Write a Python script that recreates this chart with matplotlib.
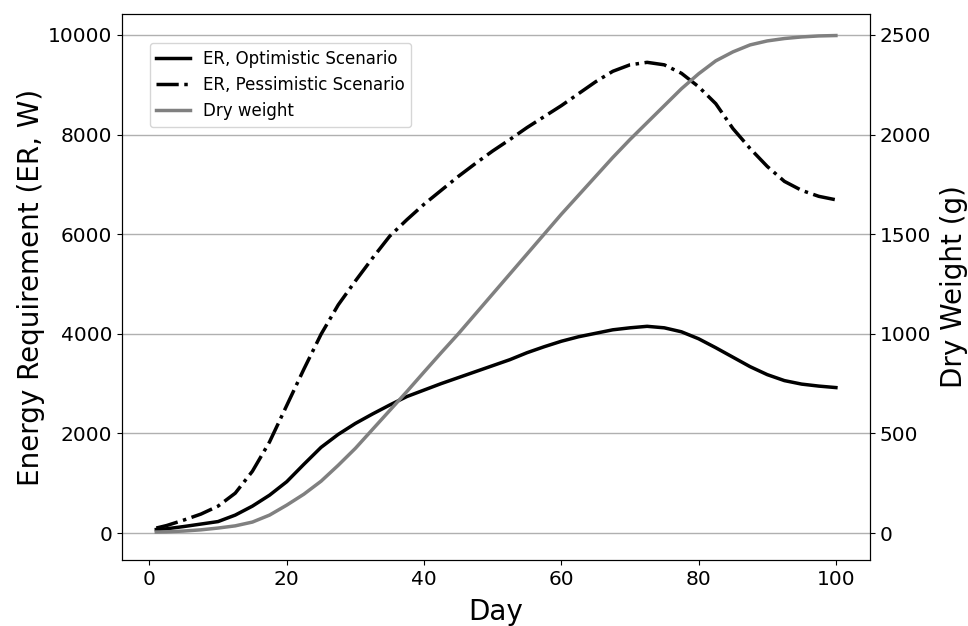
import matplotlib
matplotlib.use("Agg")
import matplotlib.pyplot as plt

days = [1, 2.5, 5, 7.5, 10, 12.5, 15, 17.5, 20, 22.5, 25, 27.5, 30, 32.5, 35, 37.5,
        40, 42.5, 45, 47.5, 50, 52.5, 55, 57.5, 60, 62.5, 65, 67.5, 70, 72.5, 75,
        77.5, 80, 82.5, 85, 87.5, 90, 92.5, 95, 97.5, 100]
er_optimistic = [70, 85, 130, 180, 230, 360, 540, 760, 1030, 1380, 1720, 1980, 2200,
                 2390, 2570, 2740, 2870, 3000, 3120, 3240, 3360, 3480, 3620, 3740,
                 3850, 3940, 4010, 4080, 4120, 4150, 4120, 4040, 3900, 3720, 3530,
                 3340, 3180, 3060, 2990, 2950, 2920]
er_pessimistic = [100, 150, 260, 380, 540, 800, 1240, 1830, 2560, 3290, 3990, 4580,
                  5060, 5520, 5960, 6290, 6600, 6880, 7160, 7420, 7670, 7900, 8140,
                  8360, 8580, 8820, 9060, 9270, 9400, 9450, 9400, 9230, 8960, 8620,
                  8120, 7720, 7360, 7060, 6880, 6760, 6690]
dry_weight = [5, 6, 10, 16, 25, 36, 55, 90, 140, 195, 260, 340, 425, 520, 615, 710,
              808, 905, 1000, 1100, 1200, 1300, 1400, 1500, 1600, 1695, 1790, 1885,
              1975, 2060, 2145, 2230, 2305, 2370, 2415, 2450, 2470, 2482, 2490, 2495,
              2497]

left_ticks = [0, 2000, 4000, 6000, 8000, 10000]
right_ticks = [0, 500, 1000, 1500, 2000, 2500]
x_ticks = [0, 20, 40, 60, 80, 100]

fig = plt.figure(figsize=(9.68, 6.26), dpi=100)
ax = fig.add_axes([0.126, 0.1054, 0.773, 0.8722])
ax2 = ax.twinx()

l1, = ax.plot(days, er_optimistic, color="black", lw=2.5, label="ER, Optimistic Scenario")
l2, = ax.plot(days, er_pessimistic, color="black", lw=2.5, ls="-.", label="ER, Pessimistic Scenario")
l3, = ax2.plot(days, dry_weight, color="gray", lw=2.5, label="Dry weight")

ax.set_xlim(-4, 105)
ax.set_ylim(-542, 10420)
ax2.set_ylim(-135.5, 2605)
ax.set_xticks(x_ticks)
ax.set_yticks(left_ticks)
ax2.set_yticks(right_ticks)
ax.grid(axis="y", color="#b0b0b0", lw=1)
ax.tick_params(labelsize=14.5)
ax2.tick_params(labelsize=14.5)

ax.set_xlabel("Day", fontsize=20, labelpad=7)
ax.set_ylabel("Energy Requirement (ER, W)", fontsize=20, labelpad=2)
ax2.set_ylabel("Dry Weight (g)", fontsize=20, labelpad=6)

ax.legend(handles=[l1, l2, l3], loc="upper left", bbox_to_anchor=(0.037, 0.947),
          borderaxespad=0, fontsize=12)

fig.savefig("out.png", dpi=100)
